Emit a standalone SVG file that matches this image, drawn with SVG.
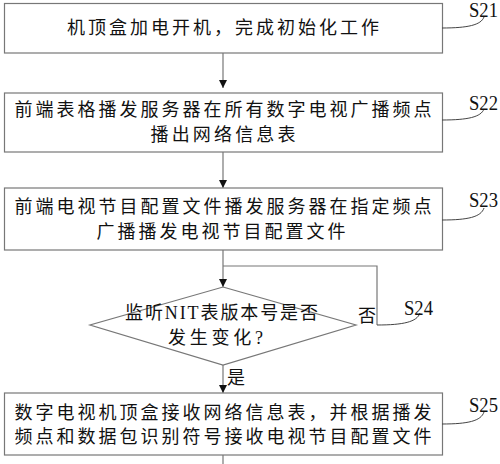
<svg xmlns="http://www.w3.org/2000/svg" width="500" height="464" viewBox="0 0 500 464">
<defs>
<marker id="arr" markerWidth="8" markerHeight="8" refX="8" refY="4" orient="auto" markerUnits="userSpaceOnUse">
<path d="M0,0 L8,4 L0,8 Z" fill="#111"/>
</marker>
<style>
.box{fill:#fff;stroke:#777;stroke-width:1.2}
.ln{fill:none;stroke:#777;stroke-width:1.2}
.ld{fill:none;stroke:#444;stroke-width:1}
.t{font-family:"Liberation Serif","Noto Sans CJK SC",serif;font-size:18px;fill:#111}
.s{font-family:"Liberation Serif",serif;font-size:20px;fill:#111}
</style>
</defs>
<rect width="500" height="464" fill="#fff"/>
<g id="connectors">
<path class="ln" d="M223,53 V88" marker-end="url(#arr)"/>
<path class="ln" d="M223,152 V188" marker-end="url(#arr)"/>
<path class="ln" d="M223,250 V287" marker-end="url(#arr)"/>
<path class="ln" d="M377,325 V266 H223"/>
<path class="ln" d="M223,365 V393" marker-end="url(#arr)"/>
<path class="ln" d="M223,455 V464"/>
<text class="t" x="358" y="322">否</text>
<text class="t" x="227" y="384">是</text>
</g>
<g id="S21">
<rect class="box" x="4.5" y="3.5" width="438" height="49.5"/>
<text class="t" x="223" y="34" text-anchor="middle" textLength="312" lengthAdjust="spacing">机顶盒加电开机，完成初始化工作</text>
<path class="ld" d="M442,28 C468,28 481,25 484,17"/>
<text class="s" x="469" y="17" textLength="29" lengthAdjust="spacingAndGlyphs">S21</text>
</g>
<g id="S22">
<rect class="box" x="4.5" y="93" width="438" height="59"/>
<text class="t" x="223" y="116" text-anchor="middle" textLength="417" lengthAdjust="spacing">前端表格播发服务器在所有数字电视广播频点</text>
<text class="t" x="223" y="141" text-anchor="middle" textLength="145" lengthAdjust="spacing">播出网络信息表</text>
<path class="ld" d="M442,120 C468,120 481,117 484,109"/>
<text class="s" x="469" y="110" textLength="29" lengthAdjust="spacingAndGlyphs">S22</text>
</g>
<g id="S23">
<rect class="box" x="4.5" y="188" width="438" height="62"/>
<text class="t" x="223" y="213" text-anchor="middle" textLength="417" lengthAdjust="spacing">前端电视节目配置文件播发服务器在指定频点</text>
<text class="t" x="221" y="238" text-anchor="middle" textLength="249" lengthAdjust="spacing">广播播发电视节目配置文件</text>
<path class="ld" d="M442,220 C468,220 481,217 484,208"/>
<text class="s" x="469" y="207" textLength="29" lengthAdjust="spacingAndGlyphs">S23</text>
</g>
<g id="S24">
<path class="box" d="M223,287 L356,325 L223,365 L90,325 Z"/>
<text class="t" x="125" y="319" textLength="193" lengthAdjust="spacing">监听NIT表版本号是否</text>
<text class="t" x="168" y="344" textLength="95" lengthAdjust="spacing">发生变化?</text>
<path class="ld" d="M377,325 C403,325 417,322 420,313"/>
<text class="s" x="404" y="315" textLength="29" lengthAdjust="spacingAndGlyphs">S24</text>
</g>
<g id="S25">
<rect class="box" x="4.5" y="393" width="438" height="62"/>
<text class="t" x="223" y="419" text-anchor="middle" textLength="417" lengthAdjust="spacing">数字电视机顶盒接收网络信息表，并根据播发</text>
<text class="t" x="223" y="443" text-anchor="middle" textLength="417" lengthAdjust="spacing">频点和数据包识别符号接收电视节目配置文件</text>
<path class="ld" d="M442,424 C468,424 481,421 484,412"/>
<text class="s" x="469" y="412" textLength="29" lengthAdjust="spacingAndGlyphs">S25</text>
</g>
</svg>
